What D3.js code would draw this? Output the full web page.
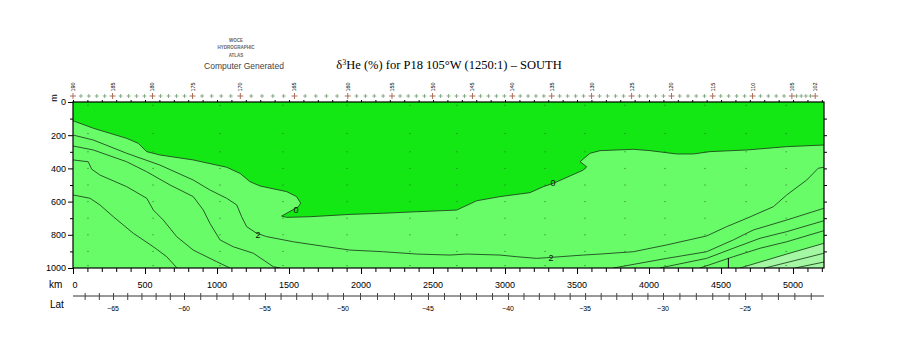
<!DOCTYPE html>
<html><head><meta charset="utf-8">
<script src="https://cdn.jsdelivr.net/npm/d3@7"></script>
<style>body{margin:0;background:#fff} svg{display:block}</style>
</head><body>
<svg id="c" width="900" height="350"></svg>
<script>
// ---------------- data ----------------
const kmMax = 5215;
const depthMax = 1000;
const depthTicks = [0, 200, 400, 600, 800, 1000];
const kmTicks = [0, 500, 1000, 1500, 2000, 2500, 3000, 3500, 4000, 4500, 5000];
const latLabels = [-65, -60, -55, -50, -45, -40, -35, -30, -25];
const latKm = [278, 771, 1333, 1875, 2465, 3021, 3556, 4097, 4667];
const stationKm = [0, 275, 552, 830, 1162, 1538, 1908, 2215, 2497, 2774, 3051, 3324, 3601, 3879, 4156, 4442, 4719, 4992, 5154];
const stationLabels = ["190","185","180","175","170","165","160","155","150","145","140","135","130","125","120","115","110","105","102"];
const dotKm = [104, 556, 1021, 1458, 1903, 2340, 2666, 3000, 3278, 3555, 3833, 4111, 4389, 4674, 4952];
const dotDepths = [20, 190, 300, 400, 500, 600, 700, 800, 900, 985];

const contour0 = [[0,113],[141,158],[373,219],[453,249],[512,299],[604,319],[835,349],[1067,393],[1160,430],[1229,480],[1299,506],[1484,540],[1553,570],[1581,610],[1565,631],[1449,687],[1484,695],[1646,691],[1923,677],[2155,670],[2387,661],[2664,651],[2803,595],[2965,570],[3173,546],[3266,510],[3335,490],[3544,410],[3567,390],[3521,360],[3590,309],[3660,293],[3891,285],[4007,293],[4192,313],[4307,313],[4423,299],[4678,289],[4956,269],[5215,259]];
const contour2 = [[0,199],[141,229],[373,309],[604,380],[835,470],[951,530],[1067,580],[1137,620],[1171,691],[1206,751],[1276,791],[1345,811],[1530,842],[1762,872],[1923,892],[2155,902],[2387,916],[2618,922],[2734,916],[2965,922],[3081,932],[3220,942],[3289,938],[3382,932],[3544,922],[3660,916],[3891,902],[4123,861],[4400,807],[4539,751],[4678,701],[4863,631],[4956,560],[5095,470],[5175,399],[5215,393]];
const contour4a = [[0,265],[141,289],[373,360],[512,420],[674,500],[835,570],[905,651],[951,731],[1021,831],[1113,872],[1252,911],[1391,992],[1437,1000]];
const contour4b = [[3752,1000],[4123,942],[4400,902],[4585,831],[4724,771],[4956,711],[5215,640]];
const contour6a = [[0,349],[106,360],[130,405],[187,440],[373,510],[512,580],[558,651],[627,711],[720,811],[835,892],[998,962],[1090,1000]];
const contour6b = [[4074,1000],[4400,942],[4585,881],[4771,821],[4956,781],[5215,715]];
const contour8a = [[0,560],[118,580],[187,620],[280,691],[419,791],[558,872],[651,932],[722,1000]];
const contour8b = [[4354,1000],[4585,932],[4771,881],[4956,842],[5215,775]];
const contour10 = [[4632,1000],[4956,916],[5215,851]];
const contour12 = [[4805,1000],[5215,911]];
const contour14 = [[5014,1000],[5215,964]];
const contourLabels = [{t:"0",km:1549,d:651},{t:"0",km:3333,d:488},{t:"2",km:1285,d:801},{t:"2",km:3319,d:940}];
const bottomMarkKm = 4551;

// ---------------- layout ----------------
const svg = d3.select("#c");
const x = d3.scaleLinear().domain([0, kmMax]).range([73, 824]);
const y = d3.scaleLinear().domain([0, depthMax]).range([102, 268]);
const lat = d3.scaleLinear().domain(latLabels).range(latKm.map(k => x(k)));

const C_DARK = "#14e814", C_MID = "#68fc68", C_LIGHT = "#a4f8a4";
const sans = "'Liberation Sans', Arial, sans-serif";

svg.append("clipPath").attr("id","clip").append("rect")
  .attr("x", x(0)).attr("y", y(0)).attr("width", x(kmMax)-x(0)).attr("height", y(depthMax)-y(0));
const g = svg.append("g").attr("clip-path","url(#clip)");
g.append("rect").attr("x", x(0)).attr("y", y(0)).attr("width", x(kmMax)-x(0)).attr("height", y(depthMax)-y(0)).attr("fill", C_MID);

const line = d3.line().x(d => x(d[0])).y(d => y(d[1]));
g.append("path").attr("d", line(contour0.concat([[kmMax,0],[0,0]])) + "Z").attr("fill", C_DARK);
g.append("path").attr("d", line(contour10.concat([[kmMax,depthMax]])) + "Z").attr("fill", C_LIGHT);

[contour0, contour2, contour4a, contour4b, contour6a, contour6b, contour8a, contour8b, contour10, contour12, contour14].forEach(c => {
  g.append("path").attr("d", line(c)).attr("fill","none").attr("stroke","#1f4a1f").attr("stroke-width",0.9);
});

// sample dots
dotKm.forEach(k => dotDepths.forEach(d => {
  g.append("rect").attr("x", x(k)-0.5).attr("y", y(d)-0.5).attr("width",1).attr("height",1).attr("fill","#2d6a2d");
}));

// contour labels
contourLabels.forEach(l => {
  svg.append("text").attr("x", x(l.km)).attr("y", y(l.d)).attr("dy","0.35em").attr("text-anchor","middle")
    .attr("font-family", sans).attr("font-size", 9).attr("fill","#111").text(l.t);
});

// bottom marker
svg.append("line").attr("x1", x(bottomMarkKm)).attr("x2", x(bottomMarkKm)).attr("y1", y(940)).attr("y2", y(depthMax)).attr("stroke","#000").attr("stroke-width",1);

// frame
svg.append("rect").attr("x", x(0)).attr("y", y(0)).attr("width", x(kmMax)-x(0)).attr("height", y(depthMax)-y(0))
  .attr("fill","none").attr("stroke","#000").attr("stroke-width",1.2);

// left axis
const ax = svg.append("g").attr("transform",`translate(${x(0)},0)`)
  .call(d3.axisLeft(y).tickValues(d3.range(0, depthMax+1, 100)).tickSize(4).tickFormat(d => depthTicks.includes(d) ? d : ""));
ax.select(".domain").remove();
ax.selectAll("text").attr("font-family", sans).attr("font-size", 9).attr("fill","#000").attr("x",-7);
ax.selectAll("line").attr("x2", d => d % 200 === 0 ? -5 : -3);

// right axis ticks
const ar = svg.append("g").attr("transform",`translate(${x(kmMax)},0)`)
  .call(d3.axisRight(y).tickValues(d3.range(100, depthMax, 100)).tickSize(3).tickFormat(""));
ar.select(".domain").remove();

// bottom axis ticks
const ab = svg.append("g").attr("transform",`translate(0,${y(depthMax)})`)
  .call(d3.axisBottom(x).tickValues(d3.range(0, kmMax, 100)).tickSize(4).tickFormat(""));
ab.select(".domain").remove();
ab.selectAll("line").attr("y2", d => d % 500 === 0 ? 6 : 4);

// top axis ticks
const at = svg.append("g").attr("transform",`translate(0,${y(0)})`)
  .call(d3.axisTop(x).tickValues(d3.range(0, kmMax, 100)).tickSize(2).tickFormat(""));
at.select(".domain").remove();

// km labels
svg.append("text").attr("x", 49).attr("y", 288).attr("font-family", sans).attr("font-size", 10).text("km");
kmTicks.forEach(k => svg.append("text").attr("x", x(k)+ (k===0?2:0)).attr("y", 288).attr("text-anchor","middle")
  .attr("font-family", sans).attr("font-size", 9).text(k));

// latitude axis
const latY = 296;
svg.append("line").attr("x1", x(0)).attr("x2", x(kmMax)).attr("y1", latY).attr("y2", latY).attr("stroke","#333").attr("stroke-width",1);
const la = svg.append("g").attr("transform",`translate(0,${latY})`)
  .call(d3.axisBottom(lat).tickValues(d3.range(-67, -20, 1).filter(v => lat(v) >= x(0) && lat(v) <= x(kmMax))).tickSize(4).tickFormat(""));
la.select(".domain").remove();
la.selectAll("line").attr("y1", -3).attr("stroke","#444");
svg.append("text").attr("x", 50).attr("y", 308).attr("font-family", sans).attr("font-size", 10).text("Lat");
latLabels.forEach(v => svg.append("text").attr("x", lat(v)).attr("y", 311).attr("text-anchor","middle")
  .attr("font-family", sans).attr("font-size", 7).text("\u2212" + Math.abs(v)));

// station markers on top
const crossY = 96;
const minorKm = [];
for (let i = 0; i < stationKm.length - 1; i++) {
  const n = 5;
  for (let j = 1; j < n; j++) minorKm.push(stationKm[i] + (stationKm[i+1]-stationKm[i]) * j / n);
}
minorKm.forEach(k => {
  svg.append("path").attr("d", `M${x(k)-2},${crossY}H${x(k)+2}M${x(k)},${crossY-2}V${crossY+2}`).attr("stroke","#6f9a6f").attr("stroke-width",0.8).attr("fill","none");
});
stationKm.forEach((k, i) => {
  svg.append("path").attr("d", `M${x(k)-3},${crossY}H${x(k)+3}M${x(k)},${crossY-3}V${crossY+3}`).attr("stroke","#a0604a").attr("stroke-width",0.9).attr("fill","none");
  svg.append("text").attr("transform", `translate(${x(k)+2},87) rotate(-90)`).attr("text-anchor","middle")
    .attr("font-family", sans).attr("font-size", 5.5).attr("fill","#000").text(stationLabels[i]);
});

// depth unit
svg.append("text").attr("transform","translate(57,98) rotate(-90)").attr("text-anchor","middle")
  .attr("font-family", sans).attr("font-size", 9).text("m");

// header
const hdr = svg.append("g").attr("font-family", sans).attr("fill","#666").attr("text-anchor","middle");
hdr.append("text").attr("x", 236).attr("y", 42).attr("font-size", 4.5).attr("font-weight","bold").text("WOCE");
hdr.append("text").attr("x", 236).attr("y", 49).attr("font-size", 4.5).attr("font-weight","bold").text("HYDROGRAPHIC");
hdr.append("text").attr("x", 236).attr("y", 57).attr("font-size", 4.5).attr("font-weight","bold").text("ATLAS");
hdr.append("text").attr("x", 244).attr("y", 69).attr("font-size", 8.5).attr("fill","#444").text("Computer Generated");

const title = svg.append("text").attr("x", 449).attr("y", 69).attr("text-anchor","middle")
  .attr("font-family", "'Liberation Serif', 'DejaVu Serif', serif").attr("font-size", 12.5).attr("fill","#000");
title.append("tspan").text("\u03b4");
title.append("tspan").attr("dy", -4).attr("font-size", 8).text("3");
title.append("tspan").attr("dy", 4).text("He (%) for P18 105\u00b0W (1250:1) \u2013 SOUTH");
</script>
</body></html>
